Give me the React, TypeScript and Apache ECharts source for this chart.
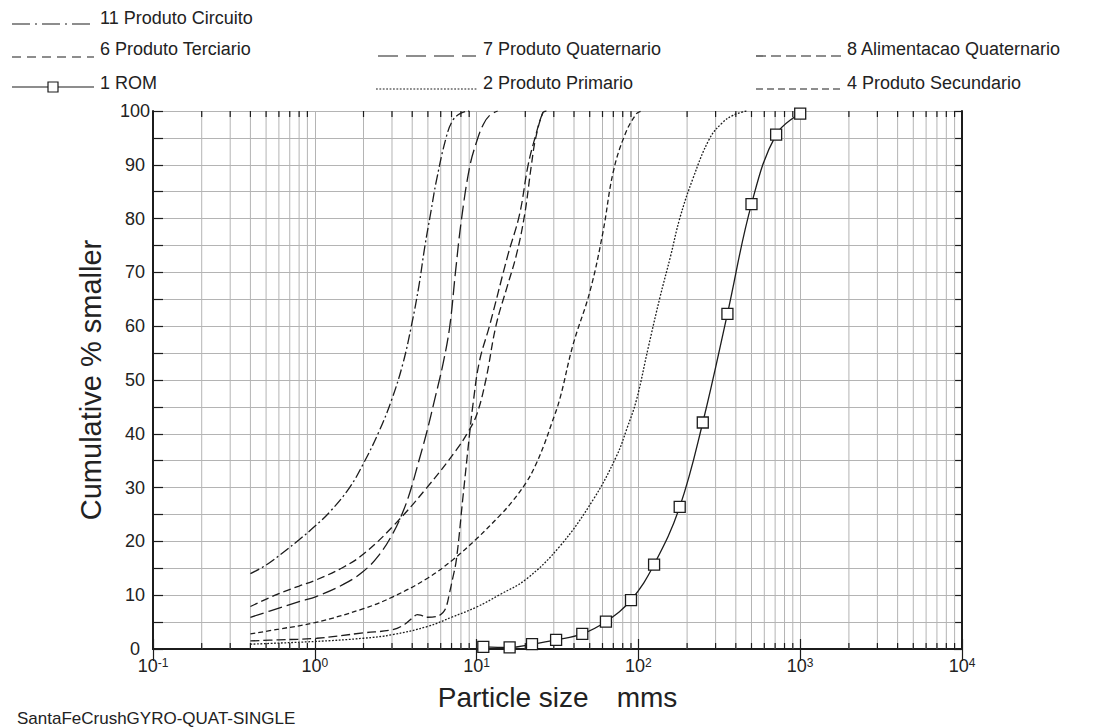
import React, { useEffect, useRef } from "react";
import * as echarts from "echarts";

// ---------- data ----------
const seriesNames = [
  "11 Produto Circuito",
  "6 Produto Terciario",
  "7 Produto Quaternario",
  "8 Alimentacao Quaternario",
  "1 ROM",
  "2 Produto Primario",
  "4 Produto Secundario",
];

const circuito11: number[][] = [
  [0.4, 14], [0.5, 15.6], [0.64, 18], [0.8, 20.3], [1, 22.8], [1.24, 25.5], [1.64, 30],
  [2, 34.5], [2.5, 40.5], [3, 46.5], [3.5, 53], [3.95, 60], [4.4, 67.5], [4.78, 74.7],
  [5.2, 81], [5.64, 87], [6.5, 95.2], [7.14, 98.3], [8, 99.6], [9, 100],
];

const terciario6: number[][] = [
  [0.4, 7.9], [0.6, 10.3], [0.8, 11.7], [1.03, 12.9], [1.5, 15.2], [1.99, 17.6], [3.04, 22.8],
  [4.9, 29.9], [7.5, 37], [8.8, 40.2], [10, 43.5], [11.4, 50], [13.2, 60.2], [15.5, 67.5],
  [17.6, 73.2], [19.8, 80.7], [21.8, 89.9], [23.2, 95], [25.7, 99.7], [27, 100],
];

const quaternario7: number[][] = [
  [0.4, 5.9], [0.6, 7.6], [0.8, 8.8], [1.03, 9.8], [1.5, 12], [1.99, 14.4], [2.5, 17.5],
  [3.04, 21.5], [3.45, 25], [3.86, 29], [4.4, 35], [4.9, 40.1], [5.5, 46.3], [6.2, 53],
  [6.82, 59.9], [7.4, 70], [8.05, 79.7], [9.06, 89.6], [9.98, 94.2], [11, 97.5],
  [12.05, 99.2], [13.5, 100],
];

const alimentacao8: number[][] = [
  [0.4, 1.5], [0.6, 1.7], [1.03, 2.0], [2, 3.0], [3.04, 3.6], [3.6, 4.6], [4.05, 5.9],
  [4.3, 6.4], [4.6, 6.2], [4.97, 5.9], [5.6, 6.0], [6.2, 6.8], [6.5, 7.9], [6.8, 10.4],
  [7.1, 13], [7.5, 16.6], [8.2, 27.7], [9.06, 40.1], [9.5, 45.5], [10.4, 53.4],
  [12.05, 60.2], [15.6, 73.2], [18.4, 80.7], [20.8, 89.9], [22.9, 94.9], [25.7, 99.7], [27, 100],
];

const rom1: number[][] = [
  [11, 0.4], [16, 0.3], [22, 0.9], [31, 1.7], [45, 2.8], [63, 5.1], [90, 9.1], [125, 15.7],
  [180, 26.4], [250, 42.1], [355, 62.3], [500, 82.7], [710, 95.6], [1000, 99.5],
];

const primario2: number[][] = [
  [0.4, 0.9], [1, 1.4], [2, 2.0], [3, 2.65], [5, 4.2], [7, 5.9], [10, 7.8], [13.9, 10.1],
  [20.3, 13], [32.7, 19.1], [52.4, 27.7], [73.1, 35.8], [85, 41], [97.3, 46.3], [115, 56],
  [135.5, 65.2], [158, 73], [180, 80], [217, 87.4], [275.7, 94.9], [330, 97.8], [384, 99.2],
  [465, 100],
];

const secundario4: number[][] = [
  [0.4, 2.8], [0.6, 3.7], [1, 4.9], [2, 7.5], [3.04, 9.7], [5, 13.2], [7.14, 16.6], [10, 20.5],
  [13.9, 24.8], [16.6, 27.4], [20.3, 31], [23, 34], [26, 37.8], [29, 41.8], [32.7, 46.5],
  [39.4, 56.5], [50.2, 66.5], [60.4, 77.5], [69.7, 88.5], [82.3, 95.5], [97.3, 99.5], [105, 100],
];

const xMinorTicks: number[] = [
  0.2, 0.3, 0.4, 0.5, 0.6, 0.7, 0.8, 0.9,
  2, 3, 4, 5, 6, 7, 8, 9,
  20, 30, 40, 50, 60, 70, 80, 90,
  200, 300, 400, 500, 600, 700, 800, 900,
  2000, 3000, 4000, 5000, 6000, 7000, 8000, 9000,
];

const xMin = 0.1;
const xMax = 10000;
const yMin = 0;
const yMax = 100;
const titleText = "SantaFeCrushGYRO-QUAT-SINGLE";
const xName = ["Particle size", "mms"];
const yName = "Cumulative % smaller";

// ---------- styles ----------
const INK = "#1c1c1c";
const GRID = "#b4b4b4";
const FONT = '"Liberation Sans", Arial, Helvetica, sans-serif';

const dashes: Record<string, number[] | "solid"> = {
  "11 Produto Circuito": [10, 3, 2, 3],
  "6 Produto Terciario": [8, 4],
  "7 Produto Quaternario": [14, 5],
  "8 Alimentacao Quaternario": [9, 4],
  "1 ROM": "solid",
  "2 Produto Primario": [1.8, 1.6],
  "4 Produto Secundario": [5, 3],
};

const legendDashes: Record<string, number[] | "solid"> = {
  "11 Produto Circuito": [18, 5, 2, 5],
  "6 Produto Terciario": [9, 6],
  "7 Produto Quaternario": [20, 8],
  "8 Alimentacao Quaternario": [10, 5],
  "1 ROM": "solid",
  "2 Produto Primario": [1.8, 1.6],
  "4 Produto Secundario": [7, 4],
};

const seriesData: Record<string, number[][]> = {
  "11 Produto Circuito": circuito11,
  "6 Produto Terciario": terciario6,
  "7 Produto Quaternario": quaternario7,
  "8 Alimentacao Quaternario": alimentacao8,
  "1 ROM": rom1,
  "2 Produto Primario": primario2,
  "4 Produto Secundario": secundario4,
};

// legend layout (positions of the legend glyphs in the page)
const legendLayout: { name: string; x1: number; x2: number; tx: number; ty: number; ly: number }[] = [
  { name: "11 Produto Circuito", x1: 12, x2: 94, tx: 100, ty: 18, ly: 24 },
  { name: "6 Produto Terciario", x1: 12, x2: 94, tx: 100, ty: 49, ly: 57 },
  { name: "7 Produto Quaternario", x1: 378, x2: 476, tx: 483, ty: 49, ly: 56 },
  { name: "8 Alimentacao Quaternario", x1: 756, x2: 844, tx: 847, ty: 49, ly: 56 },
  { name: "1 ROM", x1: 12, x2: 94, tx: 100, ty: 83, ly: 87 },
  { name: "2 Produto Primario", x1: 376, x2: 478, tx: 483, ty: 83, ly: 89 },
  { name: "4 Produto Secundario", x1: 756, x2: 844, tx: 847, ty: 83, ly: 89 },
];

function supLabel(v: number): string {
  const e = Math.round(Math.log10(v));
  return "{b|10}{s|" + e + "}";
}

export default function App() {
  const ref = useRef<HTMLDivElement>(null);

  useEffect(() => {
    document.body.style.margin = "0";
    if (!ref.current) return;
    const chart = echarts.init(ref.current, undefined, { renderer: "svg" });

    const graphics: any[] = [];
    legendLayout.forEach((l) => {
      const d = legendDashes[l.name];
      graphics.push({
        type: "line",
        shape: { x1: l.x1, y1: l.ly, x2: l.x2, y2: l.ly },
        style: {
          stroke: INK,
          lineWidth: 1.2,
          lineDash: d === "solid" ? null : d,
        },
        silent: true,
      });
      if (l.name === "1 ROM") {
        const cx = (l.x1 + l.x2) / 2;
        graphics.push({
          type: "rect",
          shape: { x: cx - 5, y: l.ly - 5, width: 10, height: 10 },
          style: { fill: "#fff", stroke: INK, lineWidth: 1.2 },
          silent: true,
        });
      }
      graphics.push({
        type: "text",
        x: l.tx,
        y: l.ty,
        style: {
          text: l.name,
          fontSize: 18,
          fontFamily: FONT,
          fill: "#222",
          verticalAlign: "middle",
          align: "left",
        },
        silent: true,
      });
    });

    const lineSeries = seriesNames.map((name) => {
      const isRom = name === "1 ROM";
      const d = dashes[name];
      return {
        name,
        type: "line",
        data: seriesData[name],
        smooth: 0.4,
        symbol: isRom ? "rect" : "none",
        symbolSize: isRom ? 11 : 0,
        showSymbol: isRom,
        itemStyle: isRom ? { color: "#fff", borderColor: INK, borderWidth: 1.3 } : undefined,
        lineStyle: { color: INK, width: 1.3, type: d === "solid" ? "solid" : d },
        z: 5,
        silent: true,
      };
    });

    const option: any = {
      animation: false,
      backgroundColor: "#fff",
      title: {
        text: titleText,
        left: 12,
        top: 705,
        textStyle: { fontSize: 17, fontWeight: "normal", color: "#222", fontFamily: FONT },
      },
      grid: { left: 153, right: 134, top: 111, bottom: 78, containLabel: false },
      xAxis: [
        {
          type: "log",
          logBase: 10,
          min: xMin,
          max: xMax,
          position: "bottom",
          name: "{a|" + xName[0] + "}{c|" + xName[1] + "}",
          nameLocation: "middle",
          nameGap: 34,
          nameTextStyle: {
            rich: {
              a: { fontSize: 28, fontFamily: FONT, color: "#222", padding: [0, 28, 0, 0] },
              c: { fontSize: 28, fontFamily: FONT, color: "#222" },
            },
          },
          axisLine: { show: true, lineStyle: { color: INK, width: 2 } },
          axisTick: { show: true, inside: true, length: 10, lineStyle: { color: INK, width: 1.2 } },
          axisLabel: {
            margin: 8,
            formatter: (v: number) => supLabel(v),
            rich: {
              b: { fontSize: 18, fontFamily: FONT, color: "#222" },
              s: { fontSize: 12, fontFamily: FONT, color: "#222", verticalAlign: "top" },
            },
          },
          splitLine: { show: true, lineStyle: { color: GRID, width: 1 } },
          minorTick: { show: false },
        },
        {
          type: "log",
          logBase: 10,
          min: xMin,
          max: xMax,
          position: "top",
          axisLine: { show: true, lineStyle: { color: INK, width: 2 } },
          axisTick: { show: true, inside: true, length: 12, lineStyle: { color: INK, width: 1.2 } },
          axisLabel: { show: false },
          splitLine: { show: false },
        },
      ],
      yAxis: [
        {
          type: "value",
          min: yMin,
          max: yMax,
          interval: 5,
          position: "left",
          name: yName,
          nameLocation: "middle",
          nameGap: 48,
          nameTextStyle: { fontSize: 29, fontFamily: FONT, color: "#222" },
          axisLine: { show: true, lineStyle: { color: INK, width: 2 } },
          axisTick: { show: true, inside: true, length: 10, lineStyle: { color: INK, width: 1.2 } },
          axisLabel: {
            margin: 18,
            align: "center",
            fontSize: 18,
            fontFamily: FONT,
            color: "#222",
            formatter: (v: number) => (v % 10 === 0 ? String(v) : ""),
          },
          splitLine: { show: true, lineStyle: { color: GRID, width: 1 } },
        },
        {
          type: "value",
          min: yMin,
          max: yMax,
          interval: 5,
          position: "right",
          axisLine: { show: true, lineStyle: { color: INK, width: 2 } },
          axisTick: { show: true, inside: true, length: 8, lineStyle: { color: INK, width: 1.2 } },
          axisLabel: { show: false },
          splitLine: { show: false },
        },
      ],
      graphic: graphics,
      series: [
        {
          name: "minor-grid",
          type: "custom",
          silent: true,
          z: 1,
          data: xMinorTicks.map((v) => [v, yMin]),
          encode: { x: 0, y: 1 },
          renderItem: (params: any, api: any) => {
            const v = api.value(0);
            const b = api.coord([v, yMin]);
            const t = api.coord([v, yMax]);
            return {
              type: "group",
              children: [
                {
                  type: "line",
                  shape: { x1: b[0], y1: b[1], x2: t[0], y2: t[1] },
                  style: { stroke: GRID, lineWidth: 1 },
                },
                {
                  type: "line",
                  shape: { x1: b[0], y1: b[1], x2: b[0], y2: b[1] - 6 },
                  style: { stroke: INK, lineWidth: 1.2 },
                },
                {
                  type: "line",
                  shape: { x1: t[0], y1: t[1], x2: t[0], y2: t[1] + 6 },
                  style: { stroke: INK, lineWidth: 1.2 },
                },
              ],
            };
          },
        },
        ...lineSeries,
      ],
    };

    chart.setOption(option);
    return () => {
      chart.dispose();
    };
  }, []);

  return <div ref={ref} style={{ width: 1096, height: 727 }} />;
}
